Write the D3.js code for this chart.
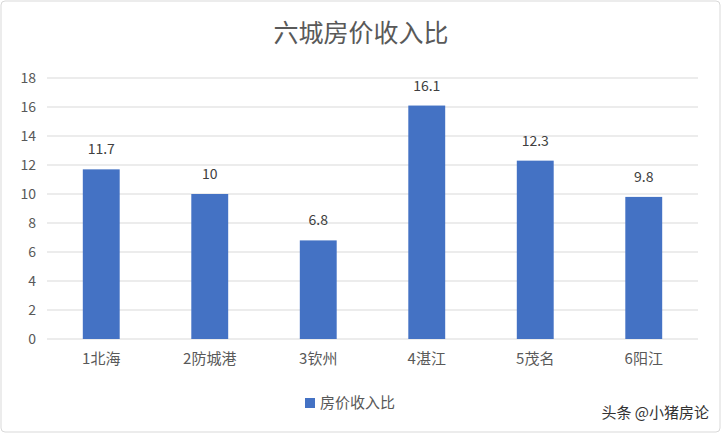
<!DOCTYPE html>
<html><head><meta charset="utf-8">
<script src="https://cdn.jsdelivr.net/npm/d3@7"></script>
<style>body{margin:0;background:#fff}</style></head>
<body><svg width="722" height="434"></svg>
<script>
const categories=["1北海","2防城港","3钦州","4湛江","5茂名","6阳江"];
const values=[11.7,10,6.8,16.1,12.3,9.8];
const labels=["11.7","10","6.8","16.1","12.3","9.8"];
const yTicks=[0,2,4,6,8,10,12,14,16,18];
const svg=d3.select("svg");
const font="'Noto Sans CJK SC','Noto Sans',sans-serif";
svg.append("rect").attr("x",1).attr("y",1).attr("width",719).attr("height",431).attr("rx",4).attr("fill","#fff").attr("stroke","#d9d9d9");
const x=d3.scaleBand().domain(categories).range([47,698]).paddingInner(0.66).paddingOuter(0.33);
const y=d3.scaleLinear().domain([0,18]).range([339,78]);
svg.append("g").selectAll("line").data(yTicks).join("line")
 .attr("x1",47).attr("x2",698).attr("y1",d=>y(d)).attr("y2",d=>y(d)).attr("stroke","#d9d9d9");
svg.append("g").selectAll("text").data(yTicks).join("text")
 .attr("x",36).attr("y",d=>y(d)+5).attr("text-anchor","end").attr("font-size",14).attr("fill","#595959").attr("font-family",font).text(d=>d);
svg.append("g").selectAll("rect").data(values).join("rect")
 .attr("x",(d,i)=>x(categories[i])).attr("width",x.bandwidth()).attr("y",d=>y(d)).attr("height",d=>y(0)-y(d)).attr("fill","#4472C4");
svg.append("g").selectAll("text").data(values).join("text")
 .attr("x",(d,i)=>x(categories[i])+x.bandwidth()/2).attr("y",d=>y(d)-15).attr("text-anchor","middle").attr("font-size",14).attr("fill","#404040").attr("font-family",font).text((d,i)=>labels[i]);
svg.append("g").selectAll("text").data(categories).join("text")
 .attr("x",d=>x(d)+x.bandwidth()/2).attr("y",364).attr("text-anchor","middle").attr("font-size",15).attr("fill","#595959").attr("font-family",font).text(d=>d);
svg.append("text").attr("x",361).attr("y",42).attr("text-anchor","middle").attr("font-size",25).attr("fill","#595959").attr("font-family",font).text("六城房价收入比");
svg.append("rect").attr("x",305).attr("y",398).attr("width",10).attr("height",10).attr("fill","#4472C4");
svg.append("text").attr("x",320).attr("y",408).attr("font-size",15).attr("fill","#595959").attr("font-family",font).text("房价收入比");
svg.append("text").attr("x",709).attr("y",418).attr("text-anchor","end").attr("font-size",15).attr("fill","#333").attr("font-family",font).text("头条 @小猪房论");
</script></body></html>
